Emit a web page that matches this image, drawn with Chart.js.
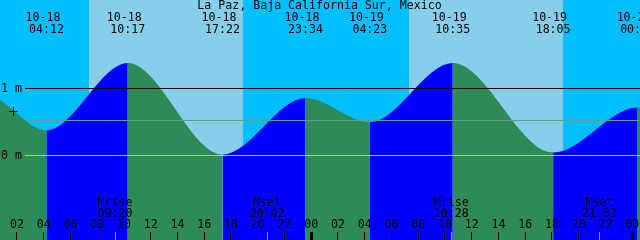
<!DOCTYPE html>
<html>
<head>
<meta charset="utf-8">
<title>La Paz, Baja California Sur, Mexico</title>
<script src="https://cdn.jsdelivr.net/npm/chart.js@4.4.1/dist/chart.umd.min.js"></script>
<style>
  html, body { margin: 0; padding: 0; background: #ffffff; }
  canvas { display: block; }
</style>
</head>
<body>
<canvas id="tideChart" width="640" height="240"></canvas>
<script>
// All times are hours counted from 10-18 00:00
const tideTimes = [-7, -0.25, 4.2, 10.283, 17.367, 23.567, 28.383, 34.583, 42.083, 48.4, 53.5];
const tideHeights = [0.02, 0.88, 0.37, 1.37, 0.01, 0.85, 0.49, 1.37, 0.04, 0.71, 0.5];

// Labels over each visible high / low
const extremeTimes = [4.2, 10.283, 17.367, 23.567, 28.383, 34.583, 42.083, 48.4];
const extremeDates = ['10-18', '10-18', '10-18', '10-18', '10-19', '10-19', '10-19', '10-20'];
const extremeClock = ['04:12', '10:17', '17:22', '23:34', '04:23', '10:35', '18:05', '00:24'];

// Daylight bands
const sunRise = [7.38, 31.31];
const sunSet = [18.92, 42.82];

// Moon rise / set
const moonTimes = [9.333, 20.7, 34.467, 45.55];
const moonEvents = ['Mrise', 'Mset', 'Mrise', 'Mset'];
const moonClock = ['09:20', '20:42', '10:28', '21:33'];

// Hour ticks along the bottom
const hourTicks = [2, 4, 6, 8, 10, 12, 14, 16, 18, 20, 22, 24, 26, 28, 30, 32, 34, 36, 38, 40, 42, 44, 46, 48];
const hourLabels = ['02', '04', '06', '08', '10', '12', '14', '16', '18', '20', '22', '00',
                    '02', '04', '06', '08', '10', '12', '14', '16', '18', '20', '22', '00'];

// Horizontal reference levels (m)
const levelValues = [1, 0.52, 0];
const levelColors = ['#000000', '#5f9f8f', '#87cefa'];
const levelTexts = ['1 m', '', '0 m'];

const markPoint = [{ x: 1.739, y: 0.651 }];

const nightColor = '#00bfff';
const dayColor = '#87ceeb';
const floodColor = '#0000ff';
const ebbColor = '#2e8b57';
const monoFont = '11.6px "DejaVu Sans Mono", "Liberation Mono", monospace';

const xMin = 0.73, xMax = 48.58;
const yMin = -1.2585, yMax = 2.3076;

const allTicks = hourTicks.concat(moonTimes).sort((a, b) => a - b);

const tideDecor = {
    id: 'tideDecor',
    beforeDraw(chart) {
        const { ctx, chartArea: a, scales: { x } } = chart;
        ctx.save();
        ctx.fillStyle = nightColor;
        ctx.fillRect(a.left, a.top, a.width, a.height);
        ctx.fillStyle = dayColor;
        for (let i = 0; i < sunRise.length; i++) {
            const x1 = Math.round(x.getPixelForValue(sunRise[i]));
            const x2 = Math.round(x.getPixelForValue(sunSet[i]));
            ctx.fillRect(x1, a.top, x2 - x1, a.height);
        }
        ctx.restore();
    },
    afterDatasetsDraw(chart) {
        const { ctx, chartArea: a, scales: { y } } = chart;
        ctx.save();
        levelValues.forEach((v, i) => {
            const py = Math.round(y.getPixelForValue(v) - 0.5);
            ctx.fillStyle = levelColors[i];
            ctx.fillRect(a.left + 25, py, a.width - 25, 1);
        });
        ctx.restore();
    },
    afterDraw(chart) {
        const { ctx, scales: { x, y } } = chart;
        ctx.save();
        ctx.font = monoFont;
        ctx.fillStyle = '#000000';
        ctx.textBaseline = 'alphabetic';

        ctx.textAlign = 'center';
        ctx.fillText('La Paz, Baja California Sur, Mexico', 319.5, 9);

        extremeTimes.forEach((t, i) => {
            const px = x.getPixelForValue(t);
            ctx.fillText(extremeDates[i], px - 3.5, 21);
            ctx.fillText(extremeClock[i], px, 33);
        });

        moonTimes.forEach((t, i) => {
            const px = x.getPixelForValue(t);
            ctx.fillText(moonEvents[i], px, 206);
            ctx.fillText(moonClock[i], px, 217);
        });

        ctx.textAlign = 'left';
        levelValues.forEach((v, i) => {
            if (!levelTexts[i]) return;
            ctx.fillText(levelTexts[i], 1, Math.round(y.getPixelForValue(v)) + 4);
        });
        ctx.restore();
    }
};

new Chart(document.getElementById('tideChart'), {
    type: 'line',
    data: {
        datasets: [{
            data: tideTimes.map((t, i) => ({ x: t, y: tideHeights[i] })),
            order: 2,
            fill: 'start',
            cubicInterpolationMode: 'monotone',
            backgroundColor: ebbColor,
            borderColor: 'rgba(0,0,0,0)',
            borderWidth: 0,
            pointRadius: 0,
            segment: {
                backgroundColor: ctx => ctx.p1.parsed.y > ctx.p0.parsed.y ? floodColor : ebbColor
            }
        }, {
            // the "+" mark, drawn over the water
            data: markPoint,
            order: 1,
            showLine: false,
            fill: false,
            pointStyle: 'cross',
            pointRadius: 4.5,
            borderColor: '#000000',
            borderWidth: 1
        }]
    },
    options: {
        responsive: false,
        animation: false,
        events: [],
        layout: { padding: 0, autoPadding: false },
        plugins: {
            legend: { display: false },
            tooltip: { enabled: false }
        },
        scales: {
            x: {
                type: 'linear',
                min: xMin,
                max: xMax,
                position: { y: -1.14 },
                z: 1,
                afterBuildTicks: scale => {
                    scale.ticks = allTicks.map(v => ({ value: v }));
                },
                border: { display: false },
                grid: {
                    z: 1,
                    drawOnChartArea: false,
                    tickLength: 8,
                    tickColor: ctx => moonTimes.includes(ctx.tick.value) ? '#9a9a9a' : '#000000',
                    tickWidth: ctx => ctx.tick.value % 24 === 0 ? 3 : 1
                },
                ticks: {
                    z: 1,
                    autoSkip: false,
                    maxRotation: 0,
                    padding: -22,
                    color: '#000000',
                    font: { family: '"DejaVu Sans Mono", "Liberation Mono", monospace', size: 11.6 },
                    callback: value => {
                        const i = hourTicks.indexOf(value);
                        return i < 0 ? '' : hourLabels[i];
                    }
                }
            },
            y: {
                type: 'linear',
                min: yMin,
                max: yMax,
                display: false
            }
        }
    },
    plugins: [tideDecor]
});
</script>
</body>
</html>
